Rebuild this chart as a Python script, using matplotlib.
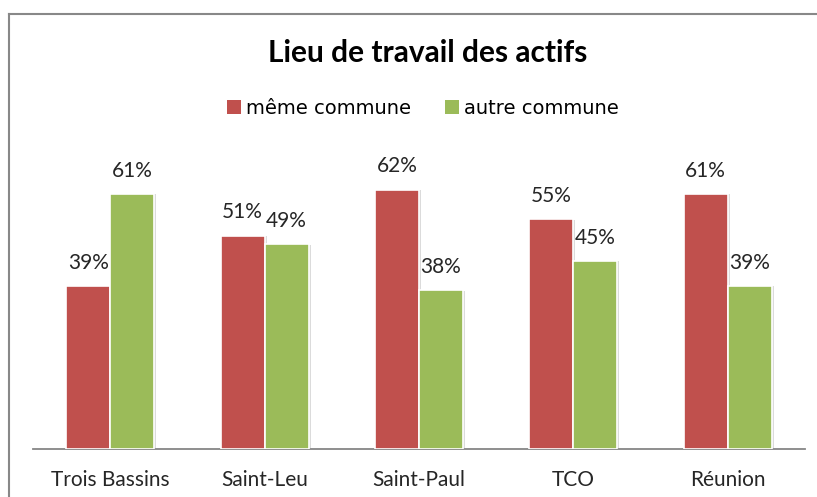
import matplotlib
matplotlib.use("Agg")
import matplotlib.pyplot as plt
import matplotlib.patheffects as pe
from matplotlib.lines import Line2D
from matplotlib.patches import Patch
import numpy as np

categories = ["Trois Bassins", "Saint-Leu", "Saint-Paul", "TCO", "Réunion"]
meme = [0.39, 0.51, 0.62, 0.55, 0.61]
autre = [0.61, 0.49, 0.38, 0.45, 0.39]
series_names = ["même commune", "autre commune"]
colors = ["#C0504D", "#9BBB59"]

W, H = 817, 497
fig = plt.figure(figsize=(W / 100, H / 100), dpi=100)
fig.patch.set_facecolor("white")

ax_left, ax_right = 33, 805
ax_base, px_per_unit, ymax = 449, 418.5, 0.70
ax_h = px_per_unit * ymax
ax = fig.add_axes([ax_left / W, (H - ax_base) / H, (ax_right - ax_left) / W, ax_h / H])

x = np.arange(len(categories))
bw = 0.285
shadow = [pe.SimplePatchShadow(offset=(1.5, -0.5), shadow_rgbFace="#999999", alpha=0.35), pe.Normal()]
for vals, col, off in [(meme, colors[0], -bw / 2), (autre, colors[1], bw / 2)]:
    bars = ax.bar(x + off, vals, width=bw, color=col, edgecolor="white", linewidth=1.2, zorder=3)
    for b in bars:
        b.set_path_effects(shadow)
    for xi, v in zip(x + off, vals):
        ax.annotate(f"{round(v * 100)}%", (xi, v), xytext=(0, 12.3), textcoords="offset points",
                    ha="center", va="baseline", fontsize=15, family="Lato", color="#262626")

ax.set_xlim(-0.5, len(categories) - 0.5)
ax.set_ylim(0, ymax)
for s in ["top", "right", "left"]:
    ax.spines[s].set_visible(False)
ax.spines["bottom"].set_color("#868686")
ax.spines["bottom"].set_linewidth(1.3)
ax.set_yticks([])
ax.set_xticks(x)
ax.set_xticklabels(categories, fontsize=15, family="Lato", color="#262626")
ax.tick_params(axis="x", length=0, pad=15)

fig.text(0.523, 1 - 53 / H, "Lieu de travail des actifs", ha="center", va="center",
         fontsize=21.5, fontweight="bold", family="Lato", color="black")

handles = [Patch(facecolor=c, edgecolor="none") for c in colors]
fig.legend(handles, series_names, loc="center", bbox_to_anchor=(0.518, 1 - 108 / H), ncol=2,
           frameon=False, prop={"family": "DejaVu Sans", "size": 14}, handlelength=0.72,
           handleheight=0.72, handletextpad=0.25, columnspacing=1.75)

# chart frame (top and left edges visible)
fig.add_artist(Line2D([9 / W, 1.0], [1 - 14 / H, 1 - 14 / H], transform=fig.transFigure, color="#888888", lw=1.5))
fig.add_artist(Line2D([9 / W, 9 / W], [0, 1 - 14 / H], transform=fig.transFigure, color="#888888", lw=1.5))

fig.savefig("out.png", dpi=100)
